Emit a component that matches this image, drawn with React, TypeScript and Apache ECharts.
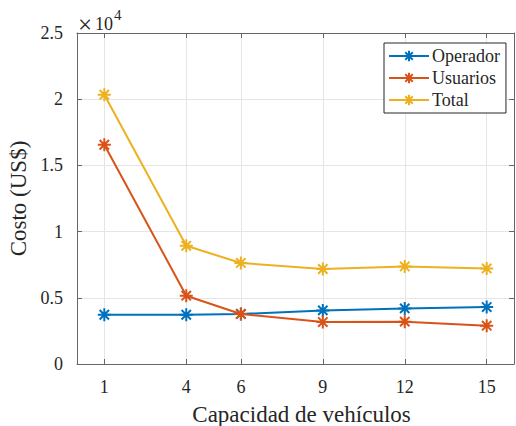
import React, { useEffect, useRef } from "react";
import * as echarts from "echarts";

const capacities = [1, 4, 6, 9, 12, 15];
const operador = [3720, 3720, 3780, 4050, 4200, 4300];
const usuarios = [16560, 5160, 3780, 3170, 3200, 2890];
const total = [20340, 8930, 7630, 7175, 7370, 7220];
const yTicks = [0, 5000, 10000, 15000, 20000, 25000];

const seriesNames = ["Operador", "Usuarios", "Total"];
const seriesColors = ["#0072BD", "#D95319", "#EDB120"];

const FONT = "'Liberation Serif', 'Times New Roman', serif";
const AXIS = "#666666";
const TEXT = "#262626";
const STAR = "path://M0,-1L0,1M-1,0L1,0M-0.72,-0.72L0.72,0.72M-0.72,0.72L0.72,-0.72";

export default function App() {
  const ref = useRef<HTMLDivElement>(null);
  useEffect(() => {
    if (!ref.current) return;
    const chart = echarts.init(ref.current, undefined, { renderer: "svg" });
    const datasets = [operador, usuarios, total];
    chart.setOption({
      animation: false,
      backgroundColor: "#ffffff",
      grid: { left: 77, top: 33, right: 2, bottom: 62, containLabel: false, outerBoundsMode: "none" },
      legend: {
        data: seriesNames,
        orient: "vertical",
        left: 384,
        top: 43,
        padding: [4, 6, 4, 4],
        itemWidth: 40,
        itemHeight: 13,
        itemGap: 4,
        backgroundColor: "#ffffff",
        borderColor: "#262626",
        borderWidth: 1,
        borderRadius: 0,
        textStyle: { fontFamily: FONT, fontSize: 18, color: TEXT, padding: [0, 0, 0, -2] },
      },
      xAxis: [
        {
          type: "value",
          min: 0,
          max: 16,
          name: "Capacidad de vehículos",
          nameLocation: "middle",
          nameGap: 39,
          nameTextStyle: { fontFamily: FONT, fontSize: 23, color: TEXT, padding: [0, 0, 0, 12] },
          axisLine: { show: true, lineStyle: { color: AXIS, width: 1 } },
          axisTick: { show: true, inside: true, length: 5, customValues: capacities, lineStyle: { color: AXIS } },
          axisLabel: { customValues: capacities, fontFamily: FONT, fontSize: 18, color: TEXT, margin: 14 },
          splitLine: { show: true, lineStyle: { color: "#e5e5e5", width: 1 } },
        },
        {
          type: "value",
          position: "top",
          min: 0,
          max: 16,
          axisLine: { show: true, onZero: false, lineStyle: { color: AXIS, width: 1 } },
          axisTick: { show: true, inside: true, length: 5, customValues: capacities, lineStyle: { color: AXIS } },
          axisLabel: { show: false },
          splitLine: { show: false },
        },
      ],
      yAxis: [
        {
          type: "value",
          min: 0,
          max: 25000,
          interval: 5000,
          name: "Costo (US$)",
          nameLocation: "middle",
          nameGap: 40,
          nameTextStyle: { fontFamily: FONT, fontSize: 23, color: TEXT },
          axisLine: { show: true, lineStyle: { color: AXIS, width: 1 } },
          axisTick: { show: true, inside: true, length: 5, customValues: yTicks, lineStyle: { color: AXIS } },
          axisLabel: {
            fontFamily: FONT,
            fontSize: 18,
            color: TEXT,
            margin: 14,
            formatter: (v: number) => String(v / 10000),
          },
          splitLine: { show: true, lineStyle: { color: "#e5e5e5", width: 1 } },
        },
        {
          type: "value",
          position: "right",
          min: 0,
          max: 25000,
          interval: 5000,
          axisLine: { show: true, onZero: false, lineStyle: { color: AXIS, width: 1 } },
          axisTick: { show: true, inside: true, length: 5, lineStyle: { color: AXIS } },
          axisLabel: { show: false },
          splitLine: { show: false },
        },
      ],
      graphic: [
        {
          type: "text",
          x: 78,
          y: 24,
          style: { text: "×", fontFamily: FONT, fontSize: 25, fill: TEXT, verticalAlign: "middle", align: "left" },
        },
        {
          type: "text",
          x: 95,
          y: 24,
          style: { text: "10", fontFamily: FONT, fontSize: 18, fill: TEXT, verticalAlign: "middle", align: "left" },
        },
        {
          type: "text",
          x: 114,
          y: 15,
          style: { text: "4", fontFamily: FONT, fontSize: 15, fill: TEXT, verticalAlign: "middle", align: "left" },
        },
      ],
      series: seriesNames.map((name, i) => ({
        name,
        type: "line",
        xAxisIndex: 0,
        yAxisIndex: 0,
        data: capacities.map((c, j) => [c, datasets[i][j]]),
        symbol: STAR,
        symbolSize: 13,
        showAllSymbol: true,
        lineStyle: { color: seriesColors[i], width: 2 },
        itemStyle: { color: seriesColors[i], borderColor: seriesColors[i], borderWidth: 2 },
        emphasis: { disabled: true },
      })),
    });
    return () => chart.dispose();
  }, []);
  return <div ref={ref} style={{ width: 516, height: 426, position: "absolute", left: 0, top: 0 }} />;
}
